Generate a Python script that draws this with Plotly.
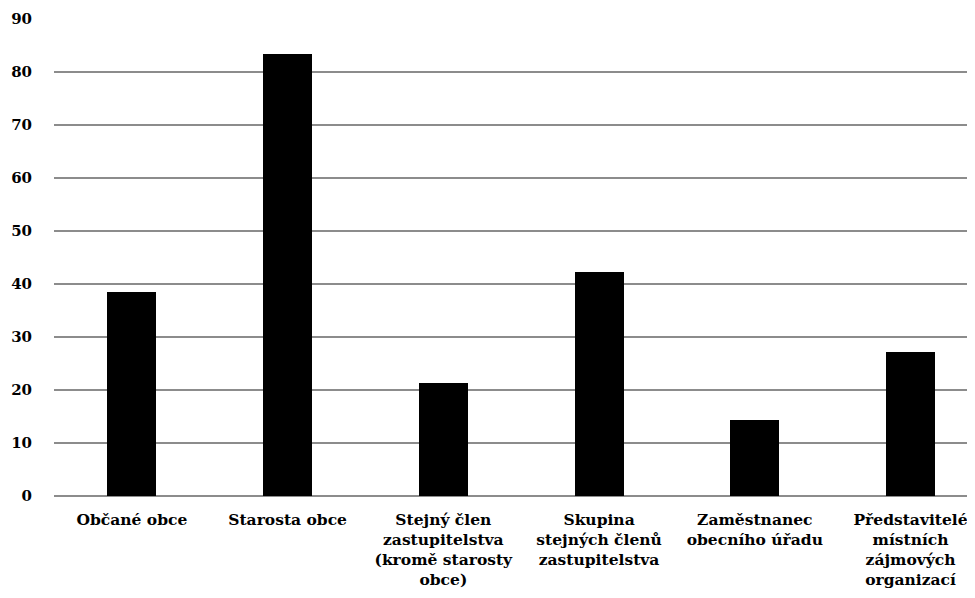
import plotly.graph_objects as go

categories = [
    "Občané obce",
    "Starosta obce",
    "Stejný člen<br>zastupitelstva<br>(kromě starosty<br>obce)",
    "Skupina<br>stejných členů<br>zastupitelstva",
    "Zaměstnanec<br>obecního úřadu",
    "Představitelé<br>místních<br>zájmových<br>organizací",
]
values = [38.5, 83.4, 21.4, 42.3, 14.4, 27.1]
y_ticks = [0, 10, 20, 30, 40, 50, 60, 70, 80, 90]

font_family = "DejaVu Serif"

fig = go.Figure(
    go.Bar(
        x=list(range(len(categories))),
        y=values,
        marker=dict(color="black", line=dict(width=0)),
        width=0.315,
    )
)

fig.update_layout(
    width=967,
    height=590,
    margin=dict(l=46, r=0, t=11, b=102),
    plot_bgcolor="white",
    paper_bgcolor="white",
    showlegend=False,
    font=dict(family=font_family, size=15, color="black"),
    bargap=0,
)

fig.update_xaxes(
    range=[-0.5, 5.414],
    tickmode="array",
    tickvals=list(range(len(categories))),
    ticktext=[f"<b>{c}</b>" for c in categories],
    showgrid=False,
    zeroline=False,
    showline=False,
    ticks="",
    tickangle=0,
    ticklabelstandoff=12,
    tickfont=dict(family=font_family, size=15.5, color="black"),
)

fig.update_yaxes(
    range=[0, 90],
    tickmode="array",
    tickvals=y_ticks,
    ticktext=[f"<b>{v}</b>" for v in y_ticks],
    showgrid=True,
    gridcolor="#8c8c8c",
    gridwidth=1.5,
    zeroline=True,
    zerolinecolor="#8c8c8c",
    zerolinewidth=1.5,
    showline=False,
    ticks="",
    ticklabelstandoff=21,
    tickfont=dict(family=font_family, size=15, color="black"),
)

fig.write_html("out.html")
